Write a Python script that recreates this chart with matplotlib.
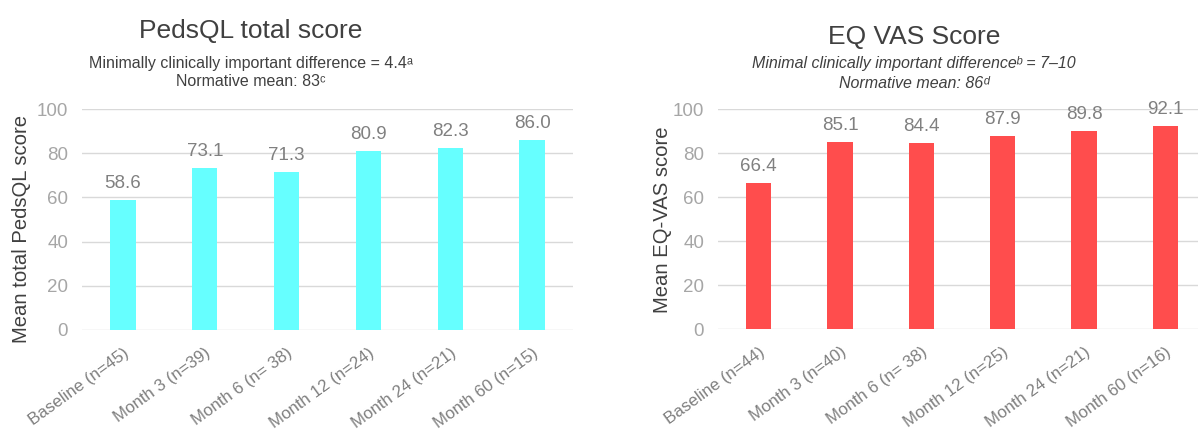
import numpy as np
import matplotlib.pyplot as plt

plt.rcParams['font.family'] = ['Liberation Sans', 'DejaVu Sans']

# Données
peds_labels = ['Baseline (n=45)', 'Month 3 (n=39)', 'Month 6 (n= 38)',
               'Month 12 (n=24)', 'Month 24 (n=21)', 'Month 60 (n=15)']
peds_values = [58.6, 73.1, 71.3, 80.9, 82.3, 86.0]

eq_labels = ['Baseline (n=44)', 'Month 3 (n=40)', 'Month 6 (n= 38)',
             'Month 12 (n=25)', 'Month 24 (n=21)', 'Month 60 (n=16)']
eq_values = [66.4, 85.1, 84.4, 87.9, 89.8, 92.1]

W, H = 1198, 432
fig = plt.figure(figsize=(W / 100, H / 100), dpi=100)


def draw_panel(rect, labels, values, color, ylabel, ylabel_x, ylabel_y):
    ax = fig.add_axes(rect)
    x = np.arange(len(values))
    ax.bar(x, values, width=0.31, color=color, zorder=3)
    for xi, v in zip(x, values):
        ax.text(xi, v + 5.5, f'{v:.1f}', ha='center', va='baseline',
                fontsize=13.5, color='#808080')
    ax.set_ylim(0, 100)
    ax.set_xlim(-0.5, len(values) - 0.5)
    ax.set_yticks(range(0, 101, 20))
    ax.grid(axis='y', color='#d9d9d9', linewidth=1.0, zorder=0)
    for s in ax.spines.values():
        s.set_visible(False)
    ax.tick_params(axis='both', length=0, labelsize=13.5, colors='#a6a6a6')
    ax.tick_params(axis='y', pad=10)
    ax.set_xticks(x)
    ax.set_xticklabels(labels, rotation=36, ha='right', rotation_mode='anchor',
                       fontsize=12.2, color='#7f7f7f')
    ax.tick_params(axis='x', pad=11)
    fig.text(ylabel_x / W, 1 - ylabel_y / H, ylabel, rotation=90, ha='center',
             va='center', fontsize=14.6, color='#404040')
    return ax


draw_panel([82 / W, 102 / H, 491 / W, 221 / H], peds_labels, peds_values,
           '#66FFFF', 'Mean total PedsQL score', 22, 229)
draw_panel([718 / W, 103 / H, 488 / W, 220 / H], eq_labels, eq_values,
           '#FF4D4D', 'Mean EQ-VAS score', 662, 220)

# Titres
fig.text(251 / W, 1 - 38 / H, 'PedsQL total score', ha='center', va='baseline',
         fontsize=19, color='#404040')
fig.text(251 / W, 1 - 68 / H, 'Minimally clinically important difference = 4.4ᵃ',
         ha='center', va='baseline', fontsize=11.5, color='#404040')
fig.text(251 / W, 1 - 86 / H, 'Normative mean: 83ᶜ', ha='center', va='baseline',
         fontsize=11.5, color='#404040')

fig.text(914 / W, 1 - 44 / H, 'EQ VAS Score', ha='center', va='baseline',
         fontsize=19, color='#404040')
fig.text(914 / W, 1 - 68 / H, 'Minimal clinically important differenceᵇ = 7–10',
         ha='center', va='baseline', fontsize=11.5, color='#404040', style='italic')
fig.text(914 / W, 1 - 88 / H, 'Normative mean: 86ᵈ', ha='center', va='baseline',
         fontsize=11.5, color='#404040', style='italic')

fig.savefig('out.png', dpi=100)
